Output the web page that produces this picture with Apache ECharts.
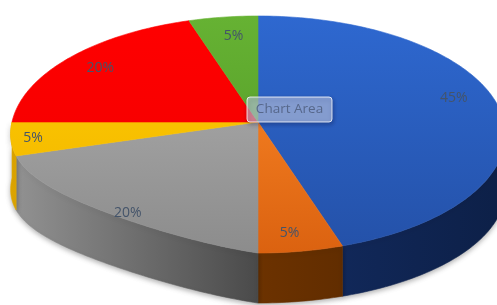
<!DOCTYPE html>
<html>
<head>
<meta charset="utf-8">
<script src="https://cdn.jsdelivr.net/npm/echarts@6/dist/echarts.min.js"></script>
<style>
html,body{margin:0;padding:0;background:#fff;}
#chart{width:497px;height:305px;}
</style>
</head>
<body>
<div id="chart"></div>
<script>
// ---- data ----
const categories = ['Slice 1', 'Slice 2', 'Slice 3', 'Slice 4', 'Slice 5', 'Slice 6'];
const values = [45, 5, 20, 5, 20, 5];

// ---- styles ----
const topColors = [
  ['#2e68d0', '#2451a8'],
  ['#ff8c2a', '#db6210'],
  ['#b0b0b0', '#8c8c8c'],
  ['#ffd000', '#f0b000'],
  ['#ff0000', '#f00000'],
  ['#66b233', '#4f9625']
];
const wallColors = [
  ['#1d3e85', '#132c62', '#0d2048'],
  ['#8c4200', '#6c3200', '#4e2400'],
  ['#969696', '#4a4a4a', '#3a3a3a'],
  ['#e6ac00', '#8c6a00', '#6b5000'],
  ['#cc0000', '#800000', '#600000'],
  ['#3f7a1c', '#2f5a15', '#234410']
];
// label fine placement (pixels) relative to the computed anchor
const labelNudge = [[4, -10], [-2, 10], [-6, 10], [-28, 1], [-6, -1], [4, -1]];

// ---- 3D projection parameters ----
const CX = 258, CY = 122, A = 246, B = 117.2, K = 0.1055, Q = 0.32;

const total = values.reduce((s, v) => s + v, 0);
const starts = [];
values.reduce((acc, v, i) => { starts[i] = acc; return acc + v; }, 0);

function proj(deg, f, flat) {
  const t = deg * Math.PI / 180;
  const X = f * Math.sin(t), Y = -f * Math.cos(t);
  const w = 1 - K * Y;
  const sx = A * X / w;
  let sy = B * Y / w;
  if (flat && X < 0 && Y > 0) sy *= 1 - Q * (-X) * Y;
  return [CX + sx, CY + sy];
}
function depth(deg) {
  const Y = -Math.cos(deg * Math.PI / 180);
  return 56 - 6 * Math.max(Y, 0);
}
function arcPts(a0, a1) {
  const pts = [];
  const n = Math.max(2, Math.ceil((a1 - a0) / 1));
  for (let j = 0; j <= n; j++) pts.push(a0 + (a1 - a0) * j / n);
  return pts;
}

function renderItem(params, api) {
  const i = params.dataIndex;
  const v = api.value(0);
  const a0 = starts[i] / total * 360;
  const a1 = (starts[i] + v) / total * 360;
  const children = [];

  // side wall (front half only)
  const w0 = Math.max(a0, 90), w1 = Math.min(a1, 270);
  if (w1 > w0) {
    const angs = arcPts(w0, w1);
    const topPts = angs.map(a => proj(a, 1, true));
    const botPts = angs.map((a, j) => [topPts[j][0], topPts[j][1] + depth(a)]).reverse();
    const wc = wallColors[i];
    const grad = new echarts.graphic.LinearGradient(0, 0, 497, 0, [
      { offset: 0, color: wc[0] },
      { offset: 258 / 497, color: wc[1] },
      { offset: 1, color: wc[2] }
    ], true);
    children.push({
      type: 'polygon',
      shape: { points: topPts.concat(botPts) },
      style: { fill: grad, stroke: grad, lineWidth: 0.6,
        shadowBlur: 5, shadowOffsetY: 2, shadowColor: 'rgba(0,0,0,0.3)' },
      z2: 1
    });
  }

  // top face
  const tc = topColors[i];
  const tg = new echarts.graphic.LinearGradient(0, 16, 0, 253, [
    { offset: 0, color: tc[0] }, { offset: 1, color: tc[1] }
  ], true);
  const topFace = [[CX, CY]].concat(arcPts(a0, a1).map(a => proj(a, 1, true)));
  children.push({
    type: 'polygon',
    shape: { points: topFace },
    style: { fill: tg, stroke: tg, lineWidth: 0.6 },
    z2: 10
  });

  // label
  const mid = (a0 + a1) / 2;
  const lp = proj(mid, 0.8, false);
  children.push({
    type: 'text',
    x: lp[0] + labelNudge[i][0],
    y: lp[1] + labelNudge[i][1],
    style: {
      text: Math.round(v / total * 100) + '%',
      fill: '#44546a',
      font: '14px "Open Sans", sans-serif',
      align: 'center',
      verticalAlign: 'middle'
    },
    z2: 20
  });

  return { type: 'group', children };
}

const chart = echarts.init(document.getElementById('chart'), null, { renderer: 'canvas' });
chart.setOption({
  animation: false,
  backgroundColor: '#ffffff',
  series: [{
    type: 'custom',
    coordinateSystem: 'none',
    renderItem: renderItem,
    z: 2,
    data: values.map((v, i) => ({ name: categories[i], value: v }))
  }],
  graphic: {
    elements: [
      {
        type: 'rect',
        z: 100,
        shape: { x: 247, y: 97, width: 85, height: 25, r: 3 },
        style: { fill: 'rgba(215,226,250,0.55)', stroke: 'rgba(255,255,255,0.8)', lineWidth: 1,
          shadowBlur: 4, shadowOffsetX: 1, shadowOffsetY: 2, shadowColor: 'rgba(0,0,40,0.45)' }
      },
      {
        type: 'text',
        z: 101,
        x: 289.5, y: 109.5,
        style: { text: 'Chart Area', fill: '#56678a', font: '13.5px "Open Sans", sans-serif',
          align: 'center', verticalAlign: 'middle' }
      }
    ]
  }
});
</script>
</body>
</html>
